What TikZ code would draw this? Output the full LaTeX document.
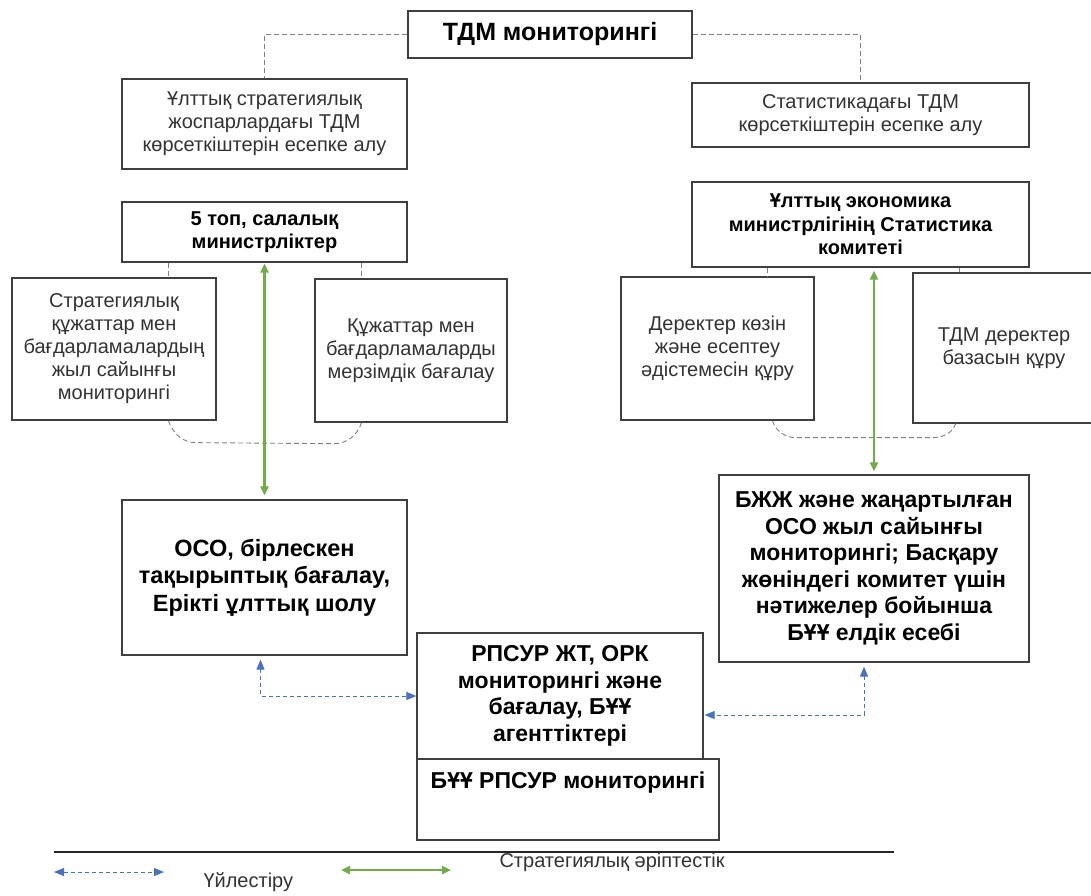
\documentclass[tikz,border=0pt]{standalone}
\usepackage{fontspec}
\setmainfont{Liberation Sans}
\usetikzlibrary{arrows.meta,calc}

\definecolor{boxline}{HTML}{3F3F3F}
\definecolor{plaintext}{HTML}{333333}
\definecolor{linkgray}{HTML}{808080}
\definecolor{coordblue}{HTML}{4472C4}
\definecolor{partnergreen}{HTML}{70AD47}

\tikzset{
	box/.style={draw=boxline, line width=1.3pt, align=center, inner sep=0pt, fill=white},
	plainbox/.style={box, text=plaintext, font=\fontsize{20}{23}\selectfont},
	boldbox/.style={box, font=\bfseries\fontsize{23}{26.5}\selectfont},
	greylink/.style={draw=linkgray, line width=0.9pt, dash pattern=on 5pt off 3pt},
	coordarrow/.style={draw=coordblue, line width=1pt, dash pattern=on 4pt off 3pt, {Triangle[length=10pt,width=8pt]}-{Triangle[length=10pt,width=8pt]}},
	partnerarrow/.style={draw=partnergreen, line width=2.2pt, {Triangle[length=9pt,width=8pt]}-{Triangle[length=9pt,width=8pt]}},
}

\begin{document}
\begin{tikzpicture}[x=1pt, y=-1pt]
	
	\clip (0,0) rectangle (1091,895);
	\fill[white] (0,0) rectangle (1091,895);
	
	%top of the scheme
	\node[boldbox, font=\bfseries\fontsize{25}{28}\selectfont, minimum width=284pt, minimum height=47pt] (tdm) at (550,34.5) {ТДМ мониторингі};
	\node[plainbox, minimum width=285pt, minimum height=90pt] (natplan) at (264.5,124) {Ұлттық стратегиялық\\жоспарлардағы ТДМ\\көрсеткіштерін есепке алу};
	\node[plainbox, minimum width=337pt, minimum height=64pt] (stat) at (860.5,115) {Статистикадағы ТДМ\\көрсеткіштерін есепке алу};
	\draw[greylink] (tdm.west) -| (natplan.north);
	\draw[greylink] (tdm.east) -| (stat.north);
	
	%left branch: ministries
	\begin{scope}
		\node[boldbox, font=\bfseries\fontsize{20}{23.3}\selectfont, minimum width=285pt, minimum height=60pt] (ministries) at (264.5,232) {5 топ, салалық\\министрліктер};
		\node[plainbox, minimum width=204pt, minimum height=142pt] (annual) at (114,349) {Стратегиялық\\құжаттар мен\\бағдарламалардың\\жыл сайынғы\\мониторингі};
		\node[plainbox, minimum width=192pt, minimum height=143pt] (periodic) at (411,350.5) {Құжаттар мен\\бағдарламаларды\\мерзімдік бағалау};
		\node[boldbox, font=\bfseries\fontsize{23.5}{27.5}\selectfont, minimum width=285pt, minimum height=155pt] (oso) at (264.5,577.5) {ОСО, бірлескен\\тақырыптық бағалау,\\Ерікті ұлттық шолу};
		
		\coordinate (tickA) at ([xshift=47pt]ministries.south west);
		\coordinate (tickB) at ([xshift=-46pt]ministries.south east);
		\draw[greylink] (tickA) -- (tickA |- annual.north);
		\draw[greylink] (tickB) -- (tickB |- periodic.north);
		\draw[greylink] (tickA |- annual.south) to[out=-70, in=180] ++(28,22) -- ($(tickB |- periodic.south)+(-28,21)$) to[out=0, in=-110] (tickB |- periodic.south);
		\draw[partnerarrow, shorten <=1pt, shorten >=4pt] (ministries.south) -- (oso.north);
	\end{scope}
	
	%right branch: statistics committee
	\begin{scope}
		\node[boldbox, font=\bfseries\fontsize{20}{23.3}\selectfont, minimum width=337pt, minimum height=85pt] (committee) at (860.5,224.5) {Ұлттық экономика\\министрлігінің Статистика\\комитеті};
		\node[plainbox, minimum width=193pt, minimum height=143pt] (sources) at (717.5,348.5) {Деректер көзін\\және есептеу\\әдістемесін құру};
		\node[plainbox, minimum width=182pt, minimum height=150pt] (database) at (1004,348) {ТДМ деректер\\базасын құру};
		\node[boldbox, minimum width=310pt, minimum height=187pt] (bzhzh) at (874,568.5) {БЖЖ және жаңартылған\\ОСО жыл сайынғы\\мониторингі; Басқару\\жөніндегі комитет үшін\\нәтижелер бойынша\\БҰҰ елдік есебі};
		
		\coordinate (tickC) at ([xshift=76pt]committee.south west);
		\coordinate (tickD) at ([xshift=-70pt]committee.south east);
		\draw[greylink] (tickC) -- (tickC |- sources.north);
		\draw[greylink] (tickD) -- (tickD |- database.north);
		\draw[greylink] ([xshift=5pt]tickC |- sources.south) to[out=-70, in=180] ++(24,17) -- ($([xshift=-4pt]tickD |- database.south)+(-24,14)$) to[out=0, in=-110] ([xshift=-4pt]tickD |- database.south);
		\draw[partnerarrow, shorten <=3pt, shorten >=3pt] (bzhzh.north |- committee.south) -- (bzhzh.north);
	\end{scope}
	
	%bottom: UN boxes and coordination
	\begin{scope}
		\node[box, minimum width=302pt, minimum height=81pt, label={[font=\bfseries\fontsize{23}{26}\selectfont, anchor=center, yshift=-24pt]north:БҰҰ РПСУР мониторингі}] (unrpsur) at (568,799.5) {};
		\node[boldbox, minimum width=286pt, minimum height=126pt] (rpsur) at (560,696) {РПСУР ЖТ, ОРК\\мониторингі және\\бағалау, БҰҰ\\агенттіктері};
		\draw[coordarrow, shorten <=4pt] ([xshift=-4pt]oso.south) |- (rpsur.west);
		\draw[coordarrow, shorten <=4pt, shorten >=1pt] ([xshift=-10pt]bzhzh.south) |- ([yshift=-19pt]rpsur.east);
	\end{scope}
	
	%legend
	\draw[line width=1.3pt, black!85] (54,852) -- (894,852);
	\coordinate (coordA) at (54,872);
	\coordinate (coordB) at (164,872);
	\draw[coordarrow] (coordA) -- (coordB);
	\node[anchor=west, text=plaintext, font=\fontsize{20}{23}\selectfont] (coordtext) at (200,882) {Үйлестіру};
	\coordinate (partnerA) at (341,870);
	\coordinate (partnerB) at (451,870);
	\draw[partnerarrow] (partnerA) -- (partnerB);
	\node[anchor=west, text=plaintext, font=\fontsize{20}{23}\selectfont] (partnertext) at (496,862) {Стратегиялық әріптестік};
	
\end{tikzpicture}
\end{document}
